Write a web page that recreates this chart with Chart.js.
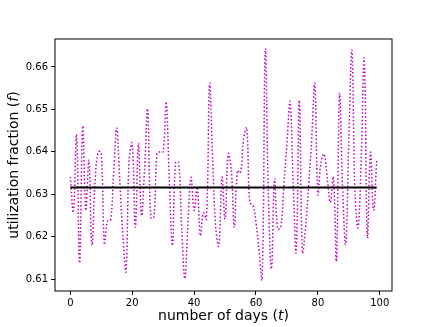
<!DOCTYPE html>
<html>
<head>
<meta charset="utf-8">
<title>utilization fraction</title>
<script src="https://cdn.jsdelivr.net/npm/chart.js@4/dist/chart.umd.min.js"></script>
<style>
    html, body { margin: 0; padding: 0; background: #fff; }
    #wrap { width: 436px; height: 327px; position: relative; }
</style>
</head>
<body>
<div id="wrap"><canvas id="myChart"></canvas></div>
<script>
// values
var days = [];
for (var d = 0; d < 100; d++) days.push(d);
var utilization = [
    0.6341, 0.6258, 0.6440, 0.6138, 0.6460, 0.6262, 0.6380, 0.6180, 0.6330, 0.6400,
    0.6398, 0.6183, 0.6236, 0.6238, 0.6350, 0.6456, 0.6330, 0.6200, 0.6119, 0.6380,
    0.6420, 0.6222, 0.6420, 0.6250, 0.6360, 0.6500, 0.6245, 0.6245, 0.6395, 0.6400,
    0.6400, 0.6517, 0.6330, 0.6179, 0.6375, 0.6375, 0.6220, 0.6101, 0.6230, 0.6340,
    0.6262, 0.6317, 0.6203, 0.6256, 0.6241, 0.6560, 0.6380, 0.6220, 0.6179, 0.6340,
    0.6242, 0.6395, 0.6360, 0.6222, 0.6356, 0.6350, 0.6430, 0.6456, 0.6280, 0.6275,
    0.6234, 0.6164, 0.6101, 0.6641, 0.6300, 0.6124, 0.6336, 0.6218, 0.6222, 0.6320,
    0.6420, 0.6518, 0.6330, 0.6164, 0.6521, 0.6164, 0.6220, 0.6320, 0.6430, 0.6560,
    0.6301, 0.6375, 0.6395, 0.6340, 0.6281, 0.6340, 0.6144, 0.6536, 0.6310, 0.6183,
    0.6430, 0.6638, 0.6300, 0.6222, 0.6385, 0.6619, 0.6199, 0.6399, 0.6262, 0.6379
];
var meanValue = 0.6316;
var xTicks = [0, 20, 40, 60, 80, 100];
var yTicks = [0.61, 0.62, 0.63, 0.64, 0.65, 0.66];
var xLabelParts = [["number of days (", ""], ["t", "italic "], [")", ""]];
var yLabelParts = [["utilization fraction (", ""], ["f", "italic "], [")", ""]];

var fontFamily = "'DejaVu Sans', sans-serif";

var seriesPoints = [];
for (var i = 0; i < days.length; i++) {
    seriesPoints.push({ x: days[i], y: utilization[i] });
}
var meanPoints = [
    { x: days[0], y: meanValue },
    { x: days[days.length - 1], y: meanValue }
];

// draw a label made of normal/italic pieces, centred on (cx, cy)
function drawParts(ctx, parts, cx, cy, rotate) {
    var size = 14;
    var total = 0;
    var widths = [];
    for (var i = 0; i < parts.length; i++) {
        ctx.font = parts[i][1] + size + "px " + fontFamily;
        var w = ctx.measureText(parts[i][0]).width;
        widths.push(w);
        total += w;
    }
    ctx.save();
    ctx.translate(cx, cy);
    if (rotate) ctx.rotate(-Math.PI / 2);
    ctx.fillStyle = "#000";
    ctx.textBaseline = "middle";
    ctx.textAlign = "left";
    var pos = -total / 2;
    for (var j = 0; j < parts.length; j++) {
        ctx.font = parts[j][1] + size + "px " + fontFamily;
        ctx.fillText(parts[j][0], pos, 0);
        pos += widths[j];
    }
    ctx.restore();
}

var framePlugin = {
    id: "frame",
    afterDraw: function (chart) {
        var ctx = chart.ctx;
        var a = chart.chartArea;
        ctx.save();
        ctx.strokeStyle = "#000";
        ctx.lineWidth = 1;
        ctx.strokeRect(a.left, a.top, a.right - a.left, a.bottom - a.top);
        ctx.restore();
        drawParts(ctx, xLabelParts, (a.left + a.right) / 2, 316, false);
        drawParts(ctx, yLabelParts, 14, (a.top + a.bottom) / 2, true);
    }
};

var ctx = document.getElementById("myChart").getContext("2d");
var myChart = new Chart(ctx, {
    type: "line",
    data: {
        datasets: [
            {
                data: meanPoints,
                borderColor: "#000",
                borderWidth: 1.8,
                pointRadius: 0,
                tension: 0,
                order: 0
            },
            {
                data: seriesPoints,
                borderColor: "#bf00bf",
                borderWidth: 1.5,
                borderDash: [1.5, 2.2],
                pointRadius: 0,
                tension: 0.4,
                order: 1
            }
        ]
    },
    options: {
        responsive: true,
        maintainAspectRatio: false,
        animation: false,
        layout: { padding: { left: 0, top: 39, right: 44, bottom: 0 } },
        plugins: {
            legend: { display: false },
            tooltip: { enabled: false }
        },
        scales: {
            x: {
                type: "linear",
                min: -4.95,
                max: 103.95,
                afterBuildTicks: function (scale) {
                    scale.ticks = xTicks.map(function (v) { return { value: v }; });
                },
                afterFit: function (scale) { scale.height = 36; },
                grid: { drawOnChartArea: false, tickLength: 4, color: "#000" },
                border: { display: false },
                ticks: {
                    color: "#000",
                    padding: 2,
                    maxRotation: 0,
                    font: { family: fontFamily, size: 10 },
                    callback: function (v) { return v; }
                }
            },
            y: {
                min: 0.6072,
                max: 0.6666,
                afterBuildTicks: function (scale) {
                    scale.ticks = yTicks.map(function (v) { return { value: v }; });
                },
                afterFit: function (scale) { scale.width = 55; },
                grid: { drawOnChartArea: false, tickLength: 4, color: "#000" },
                border: { display: false },
                ticks: {
                    color: "#000",
                    padding: 3,
                    font: { family: fontFamily, size: 10 },
                    callback: function (v) { return v.toFixed(2); }
                }
            }
        }
    },
    plugins: [framePlugin]
});
</script>
</body>
</html>
